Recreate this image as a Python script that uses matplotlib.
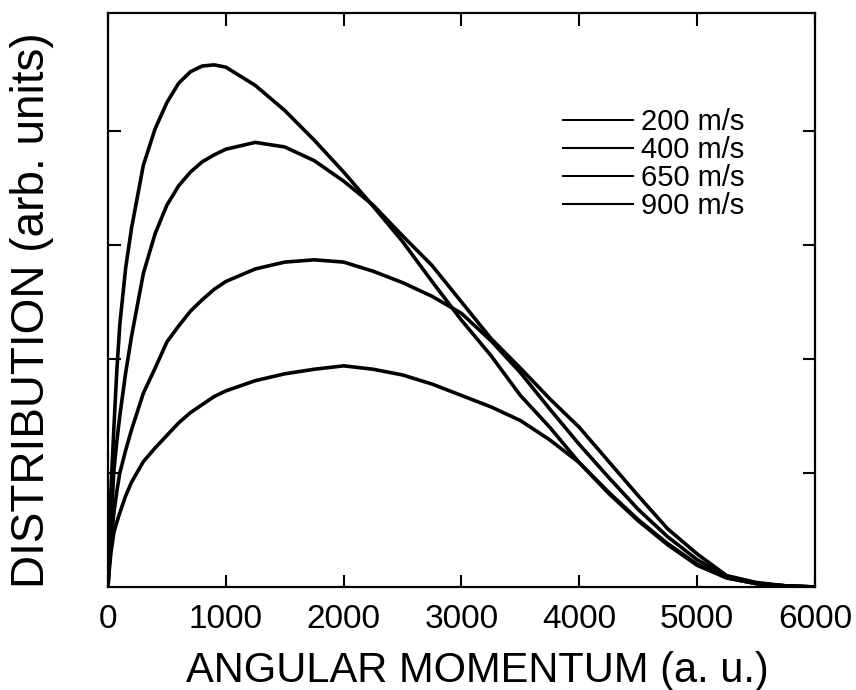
import numpy as np
import matplotlib.pyplot as plt

plt.rcParams['font.family'] = ['Liberation Sans', 'DejaVu Sans']

# angular momentum grid (a. u.)
L = [0, 10, 25, 50, 75, 100, 150, 200, 300, 400, 500, 600, 700, 800, 900, 1000,
     1250, 1500, 1750, 2000, 2250, 2500, 2750, 3000, 3250, 3500, 3750,
     4000, 4250, 4500, 4750, 5000, 5250, 5500, 5750, 6000]

# distributions (arb. units)
d200 = [0, 0.40, 0.85, 1.40, 1.90, 2.30, 2.80, 3.15, 3.70, 4.02, 4.25, 4.42, 4.52, 4.57, 4.58, 4.56,
        4.40, 4.18, 3.92, 3.64, 3.34, 3.03, 2.68, 2.34, 2.03, 1.68, 1.40,
        1.09, 0.82, 0.58, 0.37, 0.19, 0.08, 0.03, 0.01, 0.0]
d400 = [0, 0.25, 0.55, 1.02, 1.28, 1.50, 1.88, 2.20, 2.75, 3.10, 3.35, 3.52, 3.64, 3.73, 3.79, 3.84,
        3.90, 3.86, 3.74, 3.56, 3.35, 3.08, 2.82, 2.50, 2.18, 1.92, 1.65,
        1.40, 1.10, 0.80, 0.51, 0.29, 0.10, 0.04, 0.01, 0.0]
d650 = [0, 0.18, 0.40, 0.65, 0.84, 1.00, 1.20, 1.38, 1.70, 1.92, 2.15, 2.29, 2.42, 2.52, 2.61, 2.68,
        2.79, 2.85, 2.87, 2.85, 2.77, 2.67, 2.55, 2.40, 2.16, 1.88, 1.56,
        1.25, 0.96, 0.68, 0.44, 0.24, 0.09, 0.03, 0.01, 0.0]
d900 = [0, 0.14, 0.30, 0.48, 0.57, 0.65, 0.80, 0.92, 1.10, 1.22, 1.33, 1.44, 1.53, 1.60, 1.67, 1.72,
        1.81, 1.87, 1.91, 1.94, 1.91, 1.86, 1.78, 1.68, 1.58, 1.46, 1.29,
        1.09, 0.83, 0.59, 0.38, 0.20, 0.08, 0.03, 0.01, 0.0]

labels = ['200 m/s', '400 m/s', '650 m/s', '900 m/s']
series = [d200, d400, d650, d900]

fig = plt.figure(figsize=(8.56, 6.90), dpi=100)
ax = fig.add_axes([108/856, 103/690, 707/856, 574/690])

for y, lab in zip(series, labels):
    ax.plot(L, y, color='black', lw=2.6, label=lab)

ax.set_xlim(0, 6000)
ax.set_ylim(0, 5.035)
ax.set_xticks(np.arange(0, 6001, 1000))
ax.set_yticks([1, 2, 3, 4])
ax.set_yticklabels([])

ax.tick_params(direction='in', top=True, right=True, length=9, width=1.5,
               labelsize=24, pad=12)
ax.tick_params(axis='y', labelleft=False)
for s in ax.spines.values():
    s.set_linewidth(1.6)

ax.set_xlabel('ANGULAR MOMENTUM (a. u.)', fontsize=30)
ax.xaxis.set_label_coords(0.522, -0.112)
ax.set_ylabel('DISTRIBUTION (arb. units)', fontsize=33)
ax.yaxis.set_label_coords(-0.077, 0.483)

leg = ax.legend(loc='upper left', bbox_to_anchor=(0.6436, 0.834), frameon=False,
                fontsize=21, handlelength=2.4, handletextpad=0.28,
                labelspacing=0.0, borderpad=0, borderaxespad=0)
for ln in leg.get_lines():
    ln.set_linewidth(1.5)

fig.savefig('out.png', dpi=100)
